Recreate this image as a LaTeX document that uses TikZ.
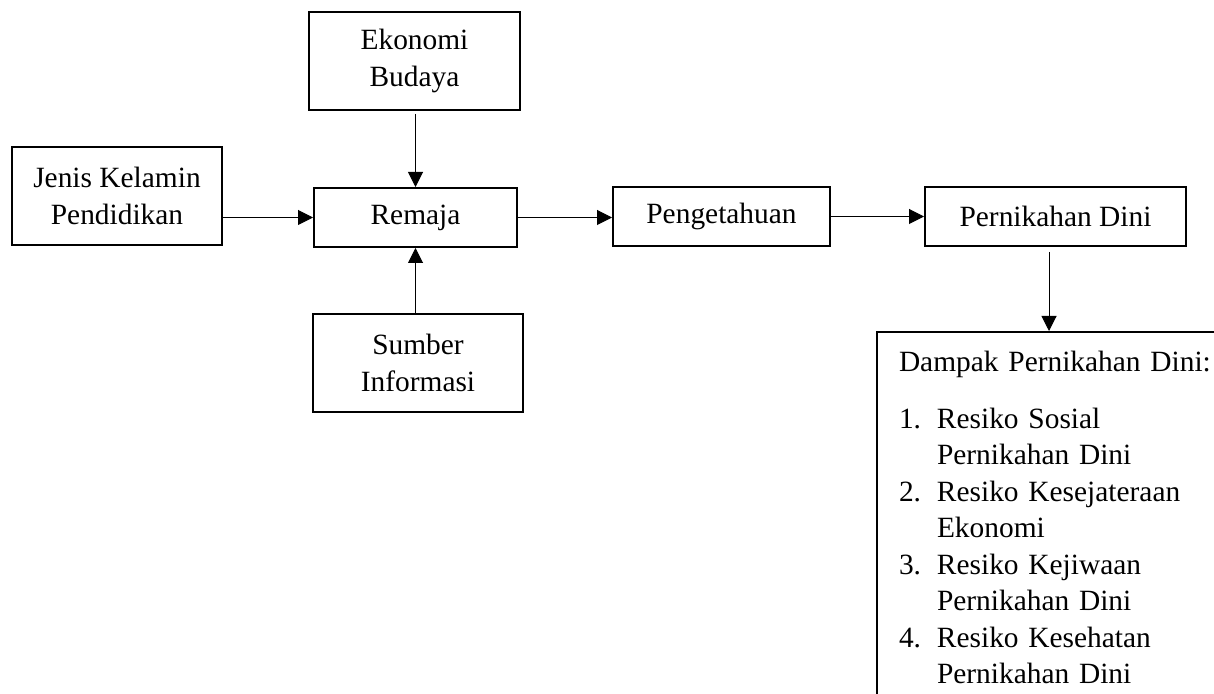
\documentclass[tikz,border=0pt]{standalone}
\usepackage{fontspec}
\setmainfont{Liberation Serif}
\usetikzlibrary{arrows.meta}
\tikzset{kotak/.style = {draw, line width = 1pt, align = center, inner sep = 0}}
\tikzset{panah/.style = {-{Triangle[length = 7.5pt, width = 7.5pt]}, line width = 0.5pt}}
\newcommand{\nomor}[1]{\makebox[19pt][l]{#1}}

\begin{document}
\begin{tikzpicture}[x = 0.5pt, y = -0.5pt, font = \fontsize{14.7}{18.25}\selectfont]
    \useasboundingbox (0, 0) rectangle (1214, 694);

    \node [kotak, minimum width = 105.5pt, minimum height = 49pt] (ekonomi) at (414.5, 61) {Ekonomi\\Budaya};
    \node [kotak, minimum width = 105pt, minimum height = 49pt] (jenis) at (117, 196) {Jenis Kelamin\\Pendidikan};
    \node [kotak, minimum width = 101.5pt, minimum height = 29.5pt] (remaja) at (415.5, 217.5) {Remaja};
    \node [kotak, minimum width = 105pt, minimum height = 49pt] (sumber) at (418, 363) {Sumber\\Informasi};
    \node [kotak, minimum width = 108.5pt, minimum height = 29.5pt] (pengetahuan) at (721.5, 216.5) {Pengetahuan};
    \node [kotak, minimum width = 130.5pt, minimum height = 29.5pt] (pernikahan) at (1055.5, 216.5) {Pernikahan Dini};

    \node [draw, line width = 1pt, anchor = north west, align = left, text width = 160pt,
      inner xsep = 11pt, inner ysep = 9.5pt] (dampak) at (876, 331) {Dampak Pernikahan Dini:\\[10.25pt]
      \nomor{1.}Resiko Sosial\\
      \nomor{}Pernikahan Dini\\
      \nomor{2.}Resiko Kesejateraan\\
      \nomor{}Ekonomi\\
      \nomor{3.}Resiko Kejiwaan\\
      \nomor{}Pernikahan Dini\\
      \nomor{4.}Resiko Kesehatan\\
      \nomor{}Pernikahan Dini};

    \draw [panah, shorten < = 1.5pt] (remaja.north |- ekonomi.south) -- (remaja.north);
    \draw [panah] (remaja.south |- sumber.north) -- (remaja.south);
    \draw [panah] (jenis.east |- remaja) -- (remaja.west);
    \draw [panah] (remaja.east) -- (remaja.east -| pengetahuan.west);
    \draw [panah] (pengetahuan) -- (pernikahan);

    \coordinate (pd) at ([xshift = -3.25pt] pernikahan.south);
    \draw [panah, shorten < = 2.5pt] (pd) -- (pd |- dampak.north);
  \end{tikzpicture}
\end{document}
